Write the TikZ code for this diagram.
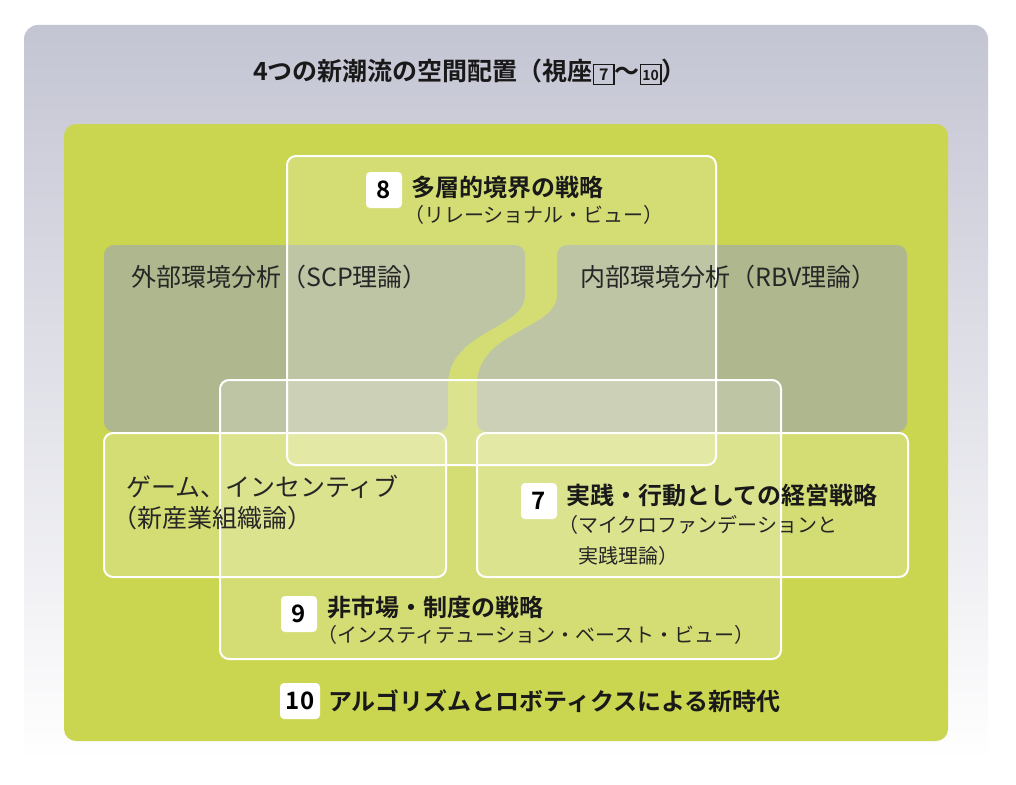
\documentclass[tikz,border=0pt]{standalone}
\usepackage{fontspec}
\setmainfont{Noto Sans CJK JP}
\newfontfamily\cjkb{Noto Sans CJK JP Bold}
\newcommand{\sqnum}[2]{{\setlength{\fboxsep}{0pt}\setlength{\fboxrule}{1.4pt}\raisebox{-1pt}{\fbox{\makebox[19pt]{\rule[-3pt]{0pt}{19pt}\raisebox{1pt}{\fontsize{#2}{#2}\selectfont #1}}}}}}
\begin{document}
\begin{tikzpicture}[x=1pt,y=-1pt,
  lbl/.style={anchor=west,inner sep=0pt,font=\fontsize{25}{28}\selectfont,text=black!85},
  hd/.style={anchor=west,inner sep=0pt,font=\cjkb\fontsize{24}{28}\selectfont,text=black!90},
  sub/.style={anchor=west,inner sep=0pt,font=\fontsize{20}{24}\selectfont,text=black!85},
  badge/.style={fill=white,rounded corners=4pt,minimum width=36pt,minimum height=36pt,inner sep=0pt,font=\cjkb\fontsize{24}{26}\selectfont},
  wbox/.style={draw=white,line width=2pt,fill=white,fill opacity=0.2,rounded corners=9pt},
  gray/.style={fill=graycol,fill opacity=0.72}]
\definecolor{bgtop}{HTML}{C4C5D3}
\definecolor{grn}{HTML}{CAD550}
\definecolor{graycol}{HTML}{A4ACA6}
\useasboundingbox (0,0) rectangle (1016,784);
\fill[white] (0,0) rectangle (1016,784);
\shade[top color=bgtop,bottom color=white,rounded corners=14pt] (24,25) rectangle (988,762);
\fill[grn,rounded corners=12pt] (64,124) rectangle (948,741);
% gray analysis regions
\fill[gray,rounded corners=10pt] (104,245) -- (525,245) -- (525,285)
  .. controls (525,330) and (448,330) .. (448,395) -- (448,432) -- (104,432) -- cycle;
\fill[gray,rounded corners=10pt] (907,245) -- (907,432) -- (477,432) -- (477,395)
  .. controls (477,330) and (557,330) .. (557,285) -- (557,245) -- cycle;
% white boxes
\draw[wbox] (287,156) rectangle (716,465);
\draw[wbox] (220,380) rectangle (781,659);
\draw[wbox] (104,433) rectangle (446,577);
\draw[wbox] (477,433) rectangle (908,577);
% title
\node[hd,font=\cjkb\fontsize{25}{28}\selectfont] (title) at (253,72) {4つの新潮流の空間配置（視座\sqnum{7}{16}～\sqnum{10}{14}）};
% 8
\node[badge] (b8) at (384,190) {8};
\node[hd] (t8) at (411,187) {多層的境界の戦略};
\node[sub] (s8) at (404,215) {（リレーショナル・ビュー）};
\node[lbl] (ext) at (131,277) {外部環境分析（SCP理論）};
\node[lbl] (int) at (580,277) {内部環境分析（RBV理論）};
\node[lbl] (g1) at (126,487) {ゲーム、インセンティブ};
\node[lbl] (g2) at (112,518) {（新産業組織論）};
% 7
\node[badge] (b7) at (539,501) {7};
\node[hd] (t7) at (566,495) {実践・行動としての経営戦略};
\node[sub] (s7a) at (558,525) {（マイクロファンデーションと};
\node[sub] (s7b) at (578,556) {実践理論）};
% 9
\node[badge] (b9) at (299,614) {9};
\node[hd] (t9) at (327,607) {非市場・制度の戦略};
\node[sub] (s9) at (317,635) {（インスティテューション・ベースト・ビュー）};
% 10
\node[badge,minimum width=40pt] (b10) at (300,701) {10};
\node[hd] (t10) at (328,701) {アルゴリズムとロボティクスによる新時代};
\end{tikzpicture}
\end{document}
